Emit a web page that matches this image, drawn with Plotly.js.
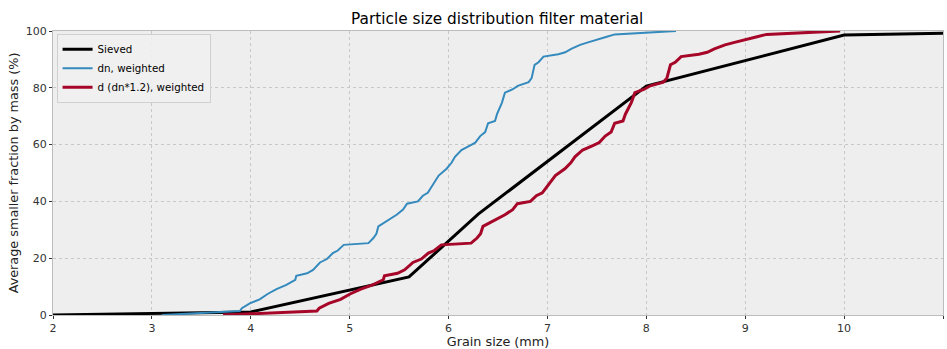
<!DOCTYPE html>
<html>
<head>
<meta charset="utf-8">
<script src="https://cdn.plot.ly/plotly-3.0.1.min.js"></script>
<style>
  html, body { margin: 0; padding: 0; background: #ffffff; }
  #chart { width: 947px; height: 349px; }
</style>
</head>
<body>
<div id="chart"></div>
<script>
// Sieve analysis: grain size (mm) vs. cumulative passing (%)
const sievedSize = [2, 4, 5.6, 6.3, 8, 10, 11.2];
const sievedPass = [0, 1.1, 13.4, 35.5, 80.6, 98.6, 99.3];

// Image-analysis grain sizes (dn), weighted by mass
const dnSize = [3.10, 3.89, 3.91, 3.99, 4.09, 4.17, 4.26, 4.36, 4.45, 4.46, 4.57, 4.63,
  4.70, 4.77, 4.83, 4.88, 4.94, 5.19, 5.24, 5.27, 5.29, 5.37, 5.475, 5.54, 5.58,
  5.69, 5.74, 5.79, 5.85, 5.90, 5.98, 6.03, 6.065, 6.13, 6.22, 6.27, 6.32, 6.37,
  6.40, 6.47, 6.49, 6.54, 6.57, 6.65, 6.70, 6.81, 6.84, 6.87, 6.91, 6.96, 7.11,
  7.18, 7.24, 7.33, 7.41, 7.48, 7.60, 7.68, 8.30];
const dnPass = [0, 1.4, 2.4, 4.1, 5.5, 7.4, 9.1, 10.6, 12.4, 13.8, 14.7, 15.9,
  18.5, 19.7, 21.8, 22.7, 24.7, 25.3, 27.1, 28.6, 31.2, 33.0, 35.3, 37.1, 39.2,
  40.0, 42.0, 43.0, 46.5, 49.1, 51.5, 53.6, 55.7, 58.1, 59.7, 60.7, 63.0, 64.4,
  67.5, 68.3, 70.7, 74.8, 78.3, 79.5, 80.7, 82.0, 83.4, 88.1, 89.0, 91.0, 91.8,
  92.5, 93.7, 95.1, 96.0, 96.8, 98.0, 98.8, 100];

// Corrected size d = dn * 1.2, same mass fractions
const dnFactor = 1.2;
const dSize = dnSize.map(v => v * dnFactor);
const dPass = dnPass.slice();

const seriesNames = ['Sieved', 'dn, weighted', 'd (dn*1.2), weighted'];
const xTicks = [2, 3, 4, 5, 6, 7, 8, 9, 10, 11];
const yTicks = [0, 20, 40, 60, 80, 100];

const font = 'DejaVu Sans, sans-serif';

const traces = [
  { x: sievedSize, y: sievedPass, name: seriesNames[0], mode: 'lines',
    line: { color: '#000000', width: 3 } },
  { x: dnSize, y: dnPass, name: seriesNames[1], mode: 'lines',
    line: { color: '#348ABD', width: 2 } },
  { x: dSize, y: dPass, name: seriesNames[2], mode: 'lines',
    line: { color: '#A60628', width: 3 } }
];

const axisCommon = {
  showgrid: true,
  gridcolor: '#c8c8c8',
  griddash: 'dot',
  gridwidth: 1,
  zeroline: false,
  showline: true,
  linecolor: '#bcbcbc',
  linewidth: 1,
  mirror: true,
  ticks: 'outside',
  ticklen: 3,
  tickcolor: '#333333',
  tickfont: { family: font, size: 11, color: '#333333' }
};

const layout = {
  width: 947,
  height: 349,
  margin: { l: 53, r: 4, t: 31, b: 34 },
  paper_bgcolor: '#ffffff',
  plot_bgcolor: '#eeeeee',
  font: { family: font, color: '#000000' },
  title: {
    text: 'Particle size distribution filter material',
    font: { family: font, size: 15.3, color: '#000000' },
    x: 0.525, xanchor: 'center', y: 0.948, yanchor: 'middle'
  },
  xaxis: Object.assign({}, axisCommon, {
    range: [2, 11],
    tickvals: xTicks,
    title: { text: 'Grain size (mm)', font: { family: font, size: 12.8, color: '#222222' }, standoff: 4 }
  }),
  yaxis: Object.assign({}, axisCommon, {
    range: [0, 100],
    tickvals: yTicks,
    title: { text: 'Average smaller fraction by mass (%)', font: { family: font, size: 12.8, color: '#222222' }, standoff: 4 }
  }),
  showlegend: true,
  legend: {
    x: 0.004, y: 0.99, xanchor: 'left', yanchor: 'top',
    bgcolor: 'rgba(240,240,240,0.9)',
    bordercolor: '#d0d0d0',
    borderwidth: 1,
    font: { family: font, size: 10.3, color: '#000000' },
    tracegroupgap: 0,
    itemwidth: 30
  }
};

Plotly.newPlot('chart', traces, layout, { displayModeBar: false, staticPlot: true });
</script>
</body>
</html>
